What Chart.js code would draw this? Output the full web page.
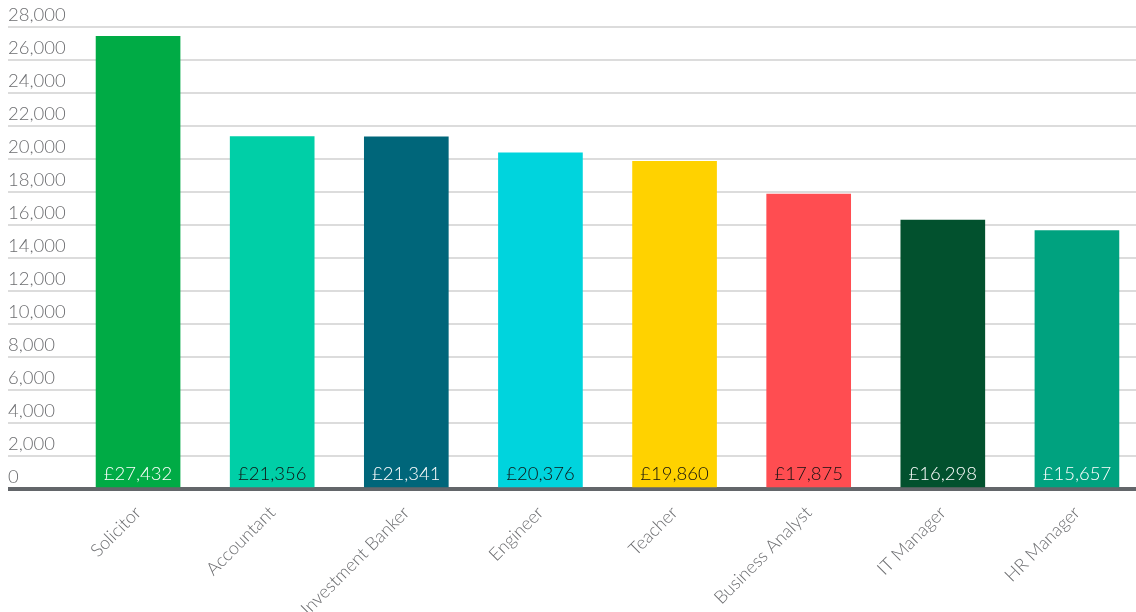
<!DOCTYPE html>
<html>
<head>
<meta charset="utf-8">
<script src="https://cdn.jsdelivr.net/npm/chart.js@4"></script>
<style>
    html, body { margin: 0; padding: 0; background: #fff; overflow: hidden; }
    #wrap { width: 1144px; height: 612px; position: relative; }
</style>
</head>
<body>
<div id="wrap"><canvas id="salaryChart"></canvas></div>
<script>
// Dados do gráfico
const jobs = ['Solicitor', 'Accountant', 'Investment Banker', 'Engineer', 'Teacher', 'Business Analyst', 'IT Manager', 'HR Manager'];
const salaries = [27432, 21356, 21341, 20376, 19860, 17875, 16298, 15657];
const barColors = ['#00ab45', '#00cfa7', '#00667a', '#00d4dd', '#ffd200', '#ff4d51', '#02512e', '#00a27f'];
const labelColors = ['#ffffff', '#111111', '#ffffff', '#111111', '#111111', '#111111', '#ffffff', '#ffffff'];
const yTicks = [0, 2000, 4000, 6000, 8000, 10000, 12000, 14000, 16000, 18000, 20000, 22000, 24000, 26000, 28000];

const FONT = '"Lato", "Roboto", sans-serif';
const GREY = '#6d6e71';

// Rótulos de valor dentro das barras, na base
const valueLabels = {
    id: 'valueLabels',
    afterDatasetsDraw(chart) {
        const ctx = chart.ctx;
        const meta = chart.getDatasetMeta(0);
        ctx.save();
        ctx.font = '300 18.5px ' + FONT;
        ctx.textAlign = 'center';
        ctx.textBaseline = 'middle';
        meta.data.forEach((bar, i) => {
            ctx.fillStyle = labelColors[i];
            ctx.fillText('£' + salaries[i].toLocaleString('en-US'), bar.x, bar.base - 13);
        });
        ctx.restore();
    }
};

const ctx = document.getElementById('salaryChart').getContext('2d');
new Chart(ctx, {
    type: 'bar',
    data: {
        labels: jobs,
        datasets: [{
            data: salaries,
            backgroundColor: barColors,
            borderWidth: 0,
            barThickness: 84
        }]
    },
    options: {
        responsive: true,
        maintainAspectRatio: false,
        animation: false,
        layout: { padding: { left: 8, top: 27, right: 0, bottom: 0 } },
        plugins: { legend: { display: false }, tooltip: { enabled: false } },
        scales: {
            x: {
                z: 1,
                grid: { display: false },
                border: { display: true, color: '#63666a', width: 4 },
                ticks: {
                    color: GREY,
                    font: { family: FONT, size: 18, weight: 300 },
                    minRotation: 45,
                    maxRotation: 45,
                    padding: 5
                },
                afterFit: scale => { scale.height = 123; }
            },
            y: {
                min: 0,
                max: 28000,
                afterBuildTicks: scale => { scale.ticks = yTicks.map(v => ({ value: v })); },
                grid: {
                    color: c => c.tick && c.tick.value === 0 ? '#63666a' : '#dcdcdc',
                    lineWidth: c => c.tick && c.tick.value === 0 ? 4 : 2,
                    drawTicks: true,
                    tickLength: 63
                },
                border: { display: false },
                ticks: {
                    color: GREY,
                    font: { family: FONT, size: 18.5, weight: 300 },
                    crossAlign: 'far',
                    labelOffset: -12,
                    padding: 0,
                    callback: value => value.toLocaleString('en-US')
                },
                afterFit: scale => { scale.width = 63; }
            }
        }
    },
    plugins: [valueLabels]
});
</script>
</body>
</html>
